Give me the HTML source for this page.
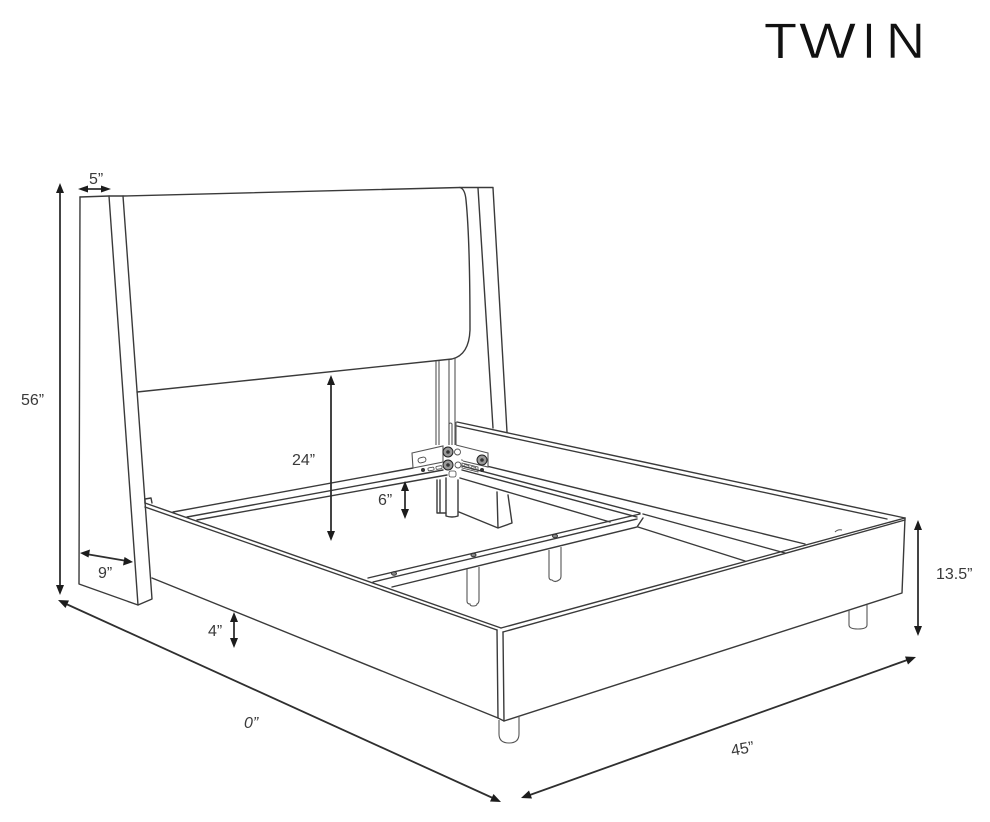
<!DOCTYPE html>
<html lang="en">
<head>
<meta charset="utf-8">
<title>Twin bed dimensions</title>
<style>
html,body{margin:0;padding:0;background:#fff;width:990px;height:822px;overflow:hidden}
svg{display:block}
.l{fill:none;stroke:#3a3a3a;stroke-width:1.4;stroke-linejoin:round;stroke-linecap:round}
.t{fill:none;stroke:#555;stroke-width:1.1}
.d{stroke:#2f2f2f;stroke-width:1.8;fill:none}
.a{fill:#1c1c1c}
text{font-family:"Liberation Sans",sans-serif}
.lb{font-size:16px;fill:#3a3a3a}
.tw{font-size:50px;fill:#111;stroke:#fff;stroke-width:0.5}
</style>
</head>
<body>
<svg width="990" height="822" viewBox="0 0 990 822" xmlns="http://www.w3.org/2000/svg">
<rect width="990" height="822" fill="#fff"/>

<!-- Title -->
<text class="tw" x="764" y="58" textLength="33" lengthAdjust="spacingAndGlyphs">T</text>
<text class="tw" x="799" y="58" textLength="57" lengthAdjust="spacingAndGlyphs">W</text>
<text class="tw" x="862" y="58">I</text>
<text class="tw" x="886" y="58" textLength="39" lengthAdjust="spacingAndGlyphs">N</text>

<!-- Headboard and wings -->
<path class="l" d="M80 197 L109 196 L123 196 L460 187.500 L493 187.500"/>
<path class="l" d="M80 197 L79 584 L138 605 L152 599 L123 196"/>
<path class="l" d="M109 196 L138 605"/>
<path class="l" d="M460 187.500 Q465 189 466 200 Q470 240 470 330 Q469 355 452 359 L137 392"/>
<path class="l" d="M478 188 L493 428"/>
<path class="l" d="M493 188 L507 432"/>

<!-- Posts above the rails -->
<path class="t" d="M436 361 V445 M439 361 V445 M449 360 V445 M455 358 V445"/>
<path class="t" d="M449 445 V424 Q450.500 422 452 424 V445"/>

<!-- Posts and block below the rails -->
<path class="l" d="M437 480 V513 H446 M440 480 V513"/>
<path class="l" d="M446 478 V516 Q452 518 458 516 V480"/>
<path class="l" d="M459 512 L498 528 L512 523 L508 495 M497 492 L498 528"/>

<!-- Side rail upper edge -->
<path class="l" d="M457 422 L905 518"/>
<path class="l" d="M457 426 L887 519"/>
<path class="t" d="M456 422 V445"/>

<!-- Left frame rail -->
<path class="l" d="M173 512 L413 468"/>
<path class="l" d="M187 517 L443 470"/>
<path class="l" d="M197 520 L447 475"/>

<!-- Right frame rail -->
<path class="l" d="M462 460 L805 544"/>
<path class="l" d="M462 466 L640 513 M643 514 L785 553"/>
<path class="l" d="M462 470 L637 517"/>
<path class="l" d="M460 478 L610 522 M638 527 L745 561"/>

<!-- Cross rail -->
<path class="l" d="M368 578 L640 514"/>
<path class="l" d="M373 582 L637 519"/>
<path class="l" d="M392 587 L637 527 L643 518"/>
<g fill="#888" stroke="#333" stroke-width="1">
<ellipse cx="394" cy="573.500" rx="2.500" ry="1.800"/>
<ellipse cx="473.500" cy="555" rx="2.500" ry="1.800"/>
<ellipse cx="555" cy="536" rx="2.500" ry="1.800"/>
</g>
<!-- Legs under cross rail -->
<path class="t" d="M467 569 V601 Q467 604 470 604 Q470 606 473 606 Q477 606 477 604 Q479 603 479 600 V567"/>
<path class="t" d="M549 550 V577 Q549 580 552 580 Q555 583 559 580 Q561 579 561 576 V547"/>

<!-- Bracket -->
<path class="t" d="M412 453 L443 446 V462 L413 468 Z" style="fill:#fff"/>
<path class="t" d="M456 445 L488 453 V467 L463 461" style="fill:#fff"/>
<rect x="418" y="457.500" width="8" height="5" rx="2.500" transform="rotate(-15 422 460)" fill="#fff" stroke="#444" stroke-width="0.900"/>
<g fill="#999" stroke="#222" stroke-width="1">
<circle cx="448" cy="452" r="5"/>
<circle cx="448" cy="465" r="5"/>
<circle cx="482" cy="460" r="5"/>
</g>
<g fill="#333">
<circle cx="448" cy="452" r="1.800"/>
<circle cx="448" cy="465" r="1.800"/>
<circle cx="482" cy="460" r="1.800"/>
<circle cx="423" cy="470" r="2"/>
<circle cx="482" cy="470" r="2"/>
</g>
<circle cx="457.500" cy="452" r="3" fill="#fff" stroke="#555" stroke-width="0.900"/>
<circle cx="458" cy="465" r="3" fill="#fff" stroke="#555" stroke-width="0.900"/>
<g fill="none" stroke="#444" stroke-width="0.800">
<rect x="428" y="467.500" width="6" height="3" rx="1" transform="rotate(-10 431 469)"/>
<rect x="436" y="466" width="6" height="3" rx="1" transform="rotate(-10 439 467.500)"/>
<path d="M462 463 L478 467 V472 L462 468 Z"/>
<rect x="464" y="465" width="5" height="2.500" rx="1" transform="rotate(14 466.500 466)"/>
<rect x="471" y="467" width="5" height="2.500" rx="1" transform="rotate(14 473.500 468)"/>
<rect x="449" y="471" width="7" height="6" rx="2"/>
</g>

<!-- Left side rail -->
<path class="l" d="M145 499 L151 498 L152 503 M145 499 V503"/>
<path class="l" d="M145 503 L501 628"/>
<path class="l" d="M145 507 L497 630"/>
<path class="l" d="M152 578 L498 718"/>

<!-- Footboard -->
<path class="l" d="M501 628 L905 518"/>
<path class="l" d="M503 632 L905 520"/>
<path class="l" d="M905 518 L902 593 L504 721"/>
<path class="l" d="M497 630 L498 718 L504 721 L503 632"/>
<path class="t" d="M835 532 Q838 529 842 530"/>

<!-- Legs -->
<path class="t" d="M499 720 V734 Q499 743 509 743 Q519 743 519 734 V716"/>
<path class="t" d="M849 610 V625 Q849 629 858 629 Q867 629 867 625 V605"/>

<!-- Dimension arrows -->
<g>
<path class="d" d="M60 190 V588"/>
<path class="a" d="M60 183 L64 193 H56 Z M60 595 L56 585 H64 Z"/>

<path class="d" d="M84 189 H105"/>
<path class="a" d="M78 189 L88 185.500 V192.500 Z M111 189 L101 185.500 V192.500 Z"/>

<path class="d" d="M86 554 L127 561"/>
<path class="a" d="M80 553 L90 549.500 L88.500 557.500 Z M133 562 L123 565.500 L124.500 557 Z"/>

<path class="d" d="M234 618 V642"/>
<path class="a" d="M234 612 L238 622 H230 Z M234 648 L230 638 H238 Z"/>

<path class="d" d="M331 381 V535"/>
<path class="a" d="M331 375 L335 385 H327 Z M331 541 L327 531 H335 Z"/>

<path class="d" d="M405 486 V514"/>
<path class="a" d="M405 481 L409 491 H401 Z M405 519 L401 509 H409 Z"/>

<path class="d" d="M918 526 V630"/>
<path class="a" d="M918 520 L922 530 H914 Z M918 636 L914 626 H922 Z"/>

<path class="d" d="M64 603 L495 799"/>
<path class="a" d="M58 600 L69 600.500 L65.500 608 Z M501 802 L490 801.500 L493.500 794 Z"/>

<path class="d" d="M527 796 L910 659"/>
<path class="a" d="M521 798 L529 790.500 L532 798.500 Z M916 657 L908 664.500 L905 656.500 Z"/>
</g>

<!-- Labels -->
<text class="lb" x="21" y="405">56”</text>
<text class="lb" x="89" y="184">5”</text>
<text class="lb" x="292" y="465">24”</text>
<text class="lb" x="378" y="505">6”</text>
<text class="lb" x="98" y="578">9”</text>
<text class="lb" x="208" y="636">4”</text>
<text class="lb" x="936" y="579">13.5”</text>
<text class="lb" x="244" y="728" font-style="italic">0”</text>
<text class="lb" x="731" y="754" transform="rotate(-10 742 749)">45”</text>
</svg>
</body>
</html>
